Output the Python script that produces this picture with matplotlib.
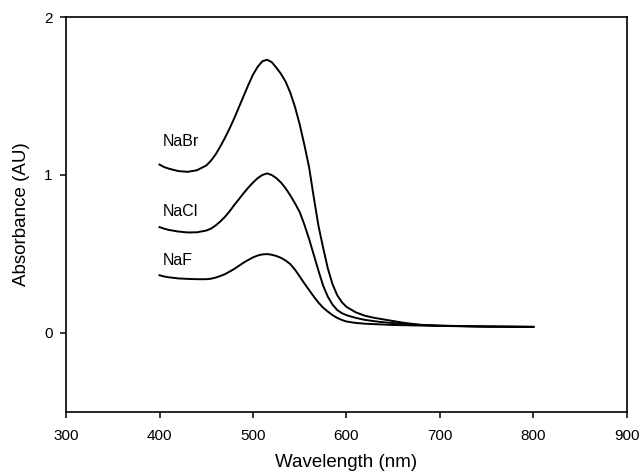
import matplotlib
matplotlib.use("Agg")
from matplotlib import pyplot as plt

# Absorbance spectra
wl_nabr = [400, 405, 410, 420, 430, 440, 450, 455, 460, 465, 470, 475, 480, 485, 490, 495, 500, 505,
           510, 515, 520, 525, 530, 535, 540, 545, 550, 555, 560, 565, 570, 575, 580, 585, 590, 595,
           600, 610, 620, 630, 645, 660, 680, 700, 750, 800]
abs_nabr = [1.066, 1.05, 1.04, 1.025, 1.02, 1.03, 1.06, 1.09, 1.13, 1.18, 1.235, 1.295, 1.36, 1.43, 1.50, 1.57, 1.635, 1.685,
            1.72, 1.73, 1.715, 1.68, 1.64, 1.59, 1.52, 1.43, 1.32, 1.19, 1.05, 0.86, 0.68, 0.54, 0.41, 0.31, 0.24, 0.195,
            0.165, 0.13, 0.108, 0.095, 0.08, 0.065, 0.05, 0.045, 0.04, 0.038]

wl_nacl = [400, 405, 410, 420, 430, 440, 450, 455, 460, 465, 470, 475, 480, 485, 490, 495, 500, 505,
           510, 515, 520, 525, 530, 535, 540, 545, 550, 555, 560, 565, 570, 575, 580, 585, 590, 595,
           600, 610, 620, 635, 650, 675, 700, 750, 800]
abs_nacl = [0.67, 0.66, 0.652, 0.642, 0.636, 0.637, 0.648, 0.66, 0.68, 0.705, 0.735, 0.77, 0.81, 0.847, 0.885, 0.92, 0.952, 0.98,
            1.0, 1.01, 1.0, 0.98, 0.952, 0.915, 0.87, 0.82, 0.765, 0.685, 0.595, 0.495, 0.395, 0.30, 0.23, 0.18, 0.145, 0.125,
            0.112, 0.095, 0.082, 0.07, 0.062, 0.052, 0.046, 0.04, 0.038]

wl_naf = [400, 405, 410, 420, 430, 440, 450, 455, 460, 465, 470, 475, 480, 485, 490, 495, 500, 505,
          510, 515, 520, 525, 530, 535, 540, 545, 550, 555, 560, 565, 570, 575, 580, 585, 590, 595,
          600, 610, 620, 650, 700, 750, 800]
abs_naf = [0.365, 0.357, 0.352, 0.345, 0.342, 0.34, 0.34, 0.343, 0.35, 0.36, 0.372, 0.388, 0.405, 0.425, 0.445, 0.462, 0.478, 0.49,
           0.497, 0.499, 0.495, 0.487, 0.475, 0.458, 0.435, 0.40, 0.357, 0.313, 0.272, 0.23, 0.192, 0.16, 0.135, 0.113, 0.095, 0.082,
           0.072, 0.063, 0.058, 0.05, 0.044, 0.04, 0.038]

labels = ["NaBr", "NaCl", "NaF"]
label_pos = [(404, 1.21), (404, 0.77), (404, 0.46)]

plt.rcParams['font.family'] = ['Liberation Sans', 'DejaVu Sans']

fig = plt.figure(figsize=(6.41, 4.75), dpi=100)
ax = fig.add_axes([0.103, 0.133, 0.875, 0.831])

for wl, ab in [(wl_nabr, abs_nabr), (wl_nacl, abs_nacl), (wl_naf, abs_naf)]:
    ax.plot(wl, ab, color='black', lw=1.4, solid_joinstyle='round')

for name, (x, y) in zip(labels, label_pos):
    ax.text(x, y, name, fontsize=11.5, va='center', ha='left')

ax.set_xlim(300, 900)
ax.set_ylim(-0.5, 2)
ax.set_xticks([300, 400, 500, 600, 700, 800, 900])
ax.set_yticks([0, 1, 2])
ax.tick_params(direction='out', length=4.5, width=1.1, labelsize=11, top=False, right=False)
ax.tick_params(axis='x', pad=8)
ax.tick_params(axis='y', pad=5)
for s in ax.spines.values():
    s.set_linewidth(1.2)

ax.set_xlabel("Wavelength (nm)", fontsize=13.5, labelpad=8)
ax.set_ylabel("Absorbance (AU)", fontsize=13.5, labelpad=10)

fig.savefig("out.png", dpi=100)
